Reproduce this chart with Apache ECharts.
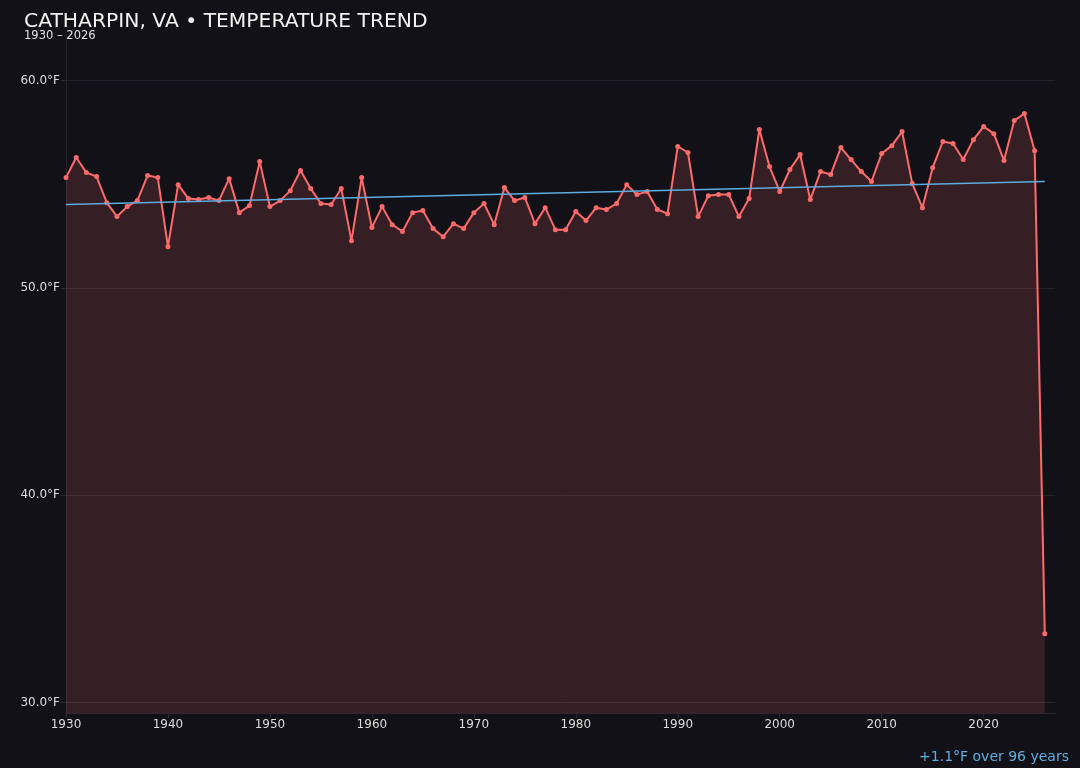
<!DOCTYPE html>
<html>
<head>
<meta charset="utf-8">
<script src="https://cdn.jsdelivr.net/npm/echarts@6/dist/echarts.min.js"></script>
<style>
  html, body { margin: 0; padding: 0; background: #121118; }
  #chart { width: 1080px; height: 768px; }
</style>
</head>
<body>
<div id="chart"></div>
<script>
// yearly mean temperature
const years = [];
for (let y = 1930; y <= 2026; y++) years.push(y);

const temps = [
  55.32, 56.29, 55.56, 55.37, 54.11, 53.44, 53.92, 54.21, 55.42, 55.32,
  51.99, 54.98, 54.31, 54.26, 54.36, 54.21, 55.27, 53.63, 53.97, 56.09,
  53.92, 54.21, 54.69, 55.66, 54.79, 54.07, 54.02, 54.79, 52.28, 55.32,
  52.91, 53.92, 53.05, 52.72, 53.63, 53.73, 52.86, 52.47, 53.10, 52.86,
  53.63, 54.07, 53.05, 54.84, 54.21, 54.36, 53.10, 53.87, 52.81, 52.81,
  53.68, 53.25, 53.87, 53.78, 54.07, 54.98, 54.50, 54.65, 53.78, 53.58,
  56.82, 56.53, 53.44, 54.45, 54.50, 54.50, 53.44, 54.31, 57.64, 55.85,
  54.65, 55.71, 56.43, 54.26, 55.61, 55.47, 56.77, 56.19, 55.61, 55.13,
  56.48, 56.86, 57.54, 55.03, 53.87, 55.80, 57.06, 56.96, 56.19, 57.15,
  57.78, 57.44, 56.14, 58.07, 58.41, 56.62, 33.32
];

// trend line end points
const trendYears = [1930, 2026];
const trendTemps = [54.02, 55.13];

const yTicks = [30, 40, 50, 60];
const xTicks = [1930, 1940, 1950, 1960, 1970, 1980, 1990, 2000, 2010, 2020];

const chart = echarts.init(document.getElementById('chart'));

const option = {
  backgroundColor: '#121118',
  animation: false,
  title: [{
    text: 'CATHARPIN, VA • TEMPERATURE TREND',
    left: 19,
    top: 7,
    textStyle: { color: '#f2f2f2', fontSize: 20.3, fontWeight: 'normal', fontFamily: 'DejaVu Sans' }
  }, {
    text: '1930 – 2026',
    left: 19,
    top: 25,
    textStyle: { color: '#e0e0e0', fontSize: 11.5, fontWeight: 'normal', fontFamily: 'DejaVu Sans' }
  }, {
    text: '+1.1°F over 96 years',
    right: 6,
    top: 745,
    textStyle: { color: '#5dade2', fontSize: 14, fontWeight: 'normal', fontFamily: 'DejaVu Sans' }
  }],
  grid: { left: 66, right: 25, top: 37, bottom: 55 },
  xAxis: {
    type: 'value',
    min: 1930,
    max: 2027,
    axisLine: { lineStyle: { color: '#2a2a30' } },
    axisTick: { show: true, customValues: xTicks, lineStyle: { color: '#2a2a30' } },
    axisLabel: {
      customValues: xTicks, color: '#dcdcdc', fontSize: 12, fontFamily: 'DejaVu Sans', margin: 6,
      formatter: v => String(v)
    },
    splitLine: { show: false }
  },
  yAxis: {
    type: 'value',
    min: 29.5,
    max: 62.1,
    axisLine: { show: true, lineStyle: { color: '#25242b' } },
    axisTick: { show: true, customValues: yTicks, lineStyle: { color: '#2a2a30' } },
    axisLabel: {
      customValues: yTicks,
      color: '#dcdcdc', fontSize: 12, fontFamily: 'DejaVu Sans', margin: 6,
      formatter: v => v.toFixed(1) + '°F'
    },
    splitLine: { show: true, lineStyle: { color: '#24232b', width: 1 } }
  },
  series: [{
    type: 'line',
    data: years.map((y, i) => [y, temps[i]]),
    symbol: 'circle',
    symbolSize: 5,
    lineStyle: { color: '#ff6b6b', width: 2 },
    itemStyle: { color: '#ff6b6b' },
    areaStyle: { color: 'rgba(255,107,107,0.15)', opacity: 1, origin: 'start' },
    z: 3
  }, {
    type: 'line',
    data: trendYears.map((y, i) => [y, trendTemps[i]]),
    symbol: 'none',
    lineStyle: { color: '#5dade2', width: 1.5 },
    z: 4
  }]
};

chart.setOption(option);
</script>
</body>
</html>
